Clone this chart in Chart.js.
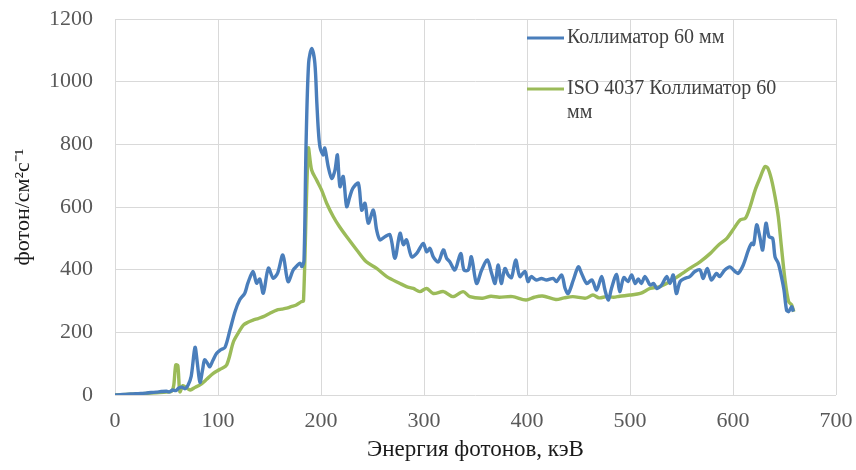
<!DOCTYPE html>
<html>
<head>
<meta charset="utf-8">
<script src="https://cdn.jsdelivr.net/npm/chart.js@4.4.1/dist/chart.umd.min.js"></script>
<style>
  html, body { margin: 0; padding: 0; background: #ffffff; }
  #wrap { width: 856px; height: 470px; }
</style>
</head>
<body>
<div id="wrap"><canvas id="c" width="856" height="470"></canvas></div>
<script>
// Photon energy (keV) and flux for the 60 mm collimator
const energyCollimator = [0, 5, 10, 15, 20, 25, 30, 35, 40, 45, 50, 53, 56, 59, 62, 65, 68, 71, 74, 77.7, 80, 82.5, 85, 87, 90, 92, 95, 98.7, 103, 106.8, 111.6, 116.5, 121, 126, 129, 134, 137.5, 140.5, 144, 148.9, 153.6, 158, 163, 168, 173, 176, 179.6, 181.5, 183.5, 185.5, 188, 191, 194, 196, 197.4, 199, 202, 203.7, 207, 210.4, 213.6, 215.9, 218.4, 221.6, 224.9, 228, 231, 236.2, 239.5, 242.7, 245.9, 250.8, 254, 257.3, 262, 267, 271.8, 276.7, 280, 283, 288, 292.9, 299.3, 302.5, 305.8, 309, 313.9, 318.8, 322, 325, 330, 335.6, 338.8, 343, 346, 351, 356, 361.5, 365.7, 369, 372, 375, 378.6, 381.8, 385, 389, 393, 398, 401, 404, 409, 414, 419, 425.5, 428.6, 433.7, 437, 440, 445, 449.8, 453, 458, 463, 467.6, 472.5, 475.7, 479, 482, 487, 490, 494, 498, 501.6, 505, 508, 511, 514.6, 519.5, 523, 526, 530.7, 535.6, 538.8, 542, 545, 548.6, 553, 558, 563, 568, 571, 575, 579, 584, 587, 592, 597, 602, 605, 610, 615, 618, 620, 623, 626, 628.8, 632, 635, 638.5, 640.8, 644, 647, 649.5, 652, 654, 657, 658.6];
const fluxCollimator = [0, 1, 2, 3, 4, 5, 6, 8, 9, 11, 12, 10, 16, 14, 22, 25, 20, 32, 60, 152, 100, 40, 80, 112, 100, 90, 110, 133, 145, 152, 207, 266, 303, 325, 357, 394, 357, 370, 325, 405, 373, 390, 447, 362, 399, 410, 421, 410, 430, 800, 1060, 1106, 1060, 930, 846, 792, 766, 788, 729, 691, 718, 766, 665, 697, 601, 633, 660, 676, 590, 612, 548, 590, 527, 495, 505, 511, 436, 516, 480, 495, 441, 452, 484, 457, 468, 441, 425, 463, 436, 425, 399, 452, 399, 399, 441, 356, 399, 431, 388, 356, 415, 356, 404, 383, 375, 431, 378, 394, 362, 378, 367, 372, 367, 372, 362, 383, 340, 324, 367, 409, 388, 356, 367, 335, 378, 335, 303, 340, 385, 330, 375, 362, 383, 356, 370, 356, 378, 351, 356, 340, 351, 378, 356, 383, 324, 362, 372, 378, 394, 399, 372, 404, 367, 388, 378, 399, 409, 394, 388, 415, 463, 484, 480, 543, 505, 463, 548, 505, 500, 441, 420, 378, 335, 271, 266, 282, 266];

// Photon energy (keV) and flux for ISO 4037 with the 60 mm collimator
const energyIso = [0, 10, 20, 30, 40, 50, 55, 57, 59, 61, 63, 66, 69.6, 73, 78, 82.5, 89, 95.4, 102, 108.4, 115, 120, 124.6, 129, 134, 139, 144, 150, 157, 162, 166.7, 171, 176, 181, 183, 187.7, 190.9, 195.7, 200.6, 205.5, 212, 218, 225, 234.7, 244, 254, 263.8, 276.7, 283, 289.6, 296, 302.5, 309, 319, 328, 338, 344.5, 357, 365, 373, 386, 399, 407, 415, 428, 436, 444.5, 457, 464, 470, 477, 484, 490, 500, 510, 519.5, 529, 539, 548.6, 558, 568, 578, 586, 594, 602, 607, 612, 616.6, 621.5, 626, 631, 634, 637.5, 640.8, 644, 647, 650.5, 654, 657, 659];
const fluxIso = [0, 2, 3, 5, 7, 9, 12, 30, 96, 94, 10, 30, 22, 16, 25, 32, 50, 69, 82, 96, 170, 200, 223, 232, 239, 244, 250, 260, 271, 274, 277, 282, 287, 298, 300, 787, 718, 686, 654, 612, 569, 537, 505, 463, 425, 404, 378, 356, 346, 340, 330, 340, 324, 330, 314, 330, 314, 309, 315, 312, 314, 303, 312, 316, 305, 310, 314, 309, 319, 310, 314, 312, 315, 319, 324, 340, 346, 362, 383, 404, 425, 452, 479, 500, 537, 559, 564, 601, 654, 691, 729, 723, 686, 633, 569, 473, 367, 298, 287, 266];

const seriesNames = ['Коллиматор 60 мм', 'ISO 4037 Коллиматор 60 мм'];
const xTicks = [0, 100, 200, 300, 400, 500, 600, 700];
const yTicks = [0, 200, 400, 600, 800, 1000, 1200];
const xTitle = 'Энергия фотонов, кэВ';
const yTitle = 'фотон/см²с⁻¹';

const BLUE = '#4a7ebb';
const GREEN = '#9bbb59';
const SERIF = '"Liberation Serif", "Times New Roman", serif';

function toPoints(xs, ys) {
  return xs.map((x, i) => ({ x: x, y: ys[i] }));
}

// Legend drawn inside the plot area, top right, with wrapping text
const insideLegend = {
  id: 'insideLegend',
  afterDraw(chart) {
    const ctx = chart.ctx;
    const x0 = 527, lineLen = 37, textX = 567, maxW = 222;
    const rows = [38, 89];
    ctx.save();
    ctx.font = '20px ' + SERIF;
    ctx.fillStyle = '#404040';
    ctx.textBaseline = 'middle';
    chart.data.datasets.forEach((ds, i) => {
      const y = rows[i];
      ctx.strokeStyle = ds.borderColor;
      ctx.lineWidth = 3;
      ctx.beginPath();
      ctx.moveTo(x0, y);
      ctx.lineTo(x0 + lineLen, y);
      ctx.stroke();
      const words = ds.label.split(' ');
      const lines = [];
      let cur = '';
      words.forEach(w => {
        const t = cur ? cur + ' ' + w : w;
        if (ctx.measureText(t).width > maxW && cur) { lines.push(cur); cur = w; }
        else cur = t;
      });
      if (cur) lines.push(cur);
      lines.forEach((ln, k) => ctx.fillText(ln, textX, y + k * 24));
    });
    ctx.restore();
  }
};

new Chart(document.getElementById('c'), {
  type: 'line',
  data: {
    datasets: [
      {
        label: seriesNames[0],
        data: toPoints(energyCollimator, fluxCollimator),
        borderColor: BLUE,
        borderWidth: 3.4,
        pointRadius: 0,
        tension: 0.3,
        fill: false
      },
      {
        label: seriesNames[1],
        data: toPoints(energyIso, fluxIso),
        borderColor: GREEN,
        borderWidth: 3.4,
        pointRadius: 0,
        tension: 0.3,
        fill: false
      }
    ]
  },
  options: {
    responsive: false,
    animation: false,
    layout: { padding: { top: 19, right: 20, left: 0, bottom: 0 } },
    plugins: {
      legend: { display: false },
      tooltip: { enabled: false }
    },
    scales: {
      x: {
        type: 'linear',
        min: xTicks[0],
        max: xTicks[xTicks.length - 1],
        afterBuildTicks: s => { s.ticks = xTicks.map(v => ({ value: v })); },
        afterFit: s => { s.height = 75; s.paddingLeft = 0; s.paddingRight = 0; },
        grid: { color: '#d9d9d9', lineWidth: 1, drawTicks: false },
        border: { display: false },
        ticks: {
          padding: 13,
          color: '#595959',
          font: { family: SERIF, size: 22 },
          maxRotation: 0,
          callback: v => String(v)
        },
        title: {
          display: true,
          text: xTitle,
          color: '#1a1a1a',
          font: { family: SERIF, size: 23 },
          padding: { top: 0, bottom: 6 }
        }
      },
      y: {
        type: 'linear',
        min: yTicks[0],
        max: yTicks[yTicks.length - 1],
        afterBuildTicks: s => { s.ticks = yTicks.map(v => ({ value: v })); },
        afterFit: s => { s.width = 115; s.paddingTop = 0; s.paddingBottom = 0; },
        grid: { color: '#d9d9d9', lineWidth: 1, drawTicks: false },
        border: { display: false },
        ticks: {
          padding: 22,
          color: '#595959',
          font: { family: SERIF, size: 22 },
          callback: v => String(v)
        },
        title: {
          display: true,
          text: yTitle,
          color: '#1a1a1a',
          font: { family: SERIF, size: 22 },
          padding: { top: 10, bottom: 0 }
        }
      }
    }
  },
  plugins: [insideLegend]
});
</script>
</body>
</html>
